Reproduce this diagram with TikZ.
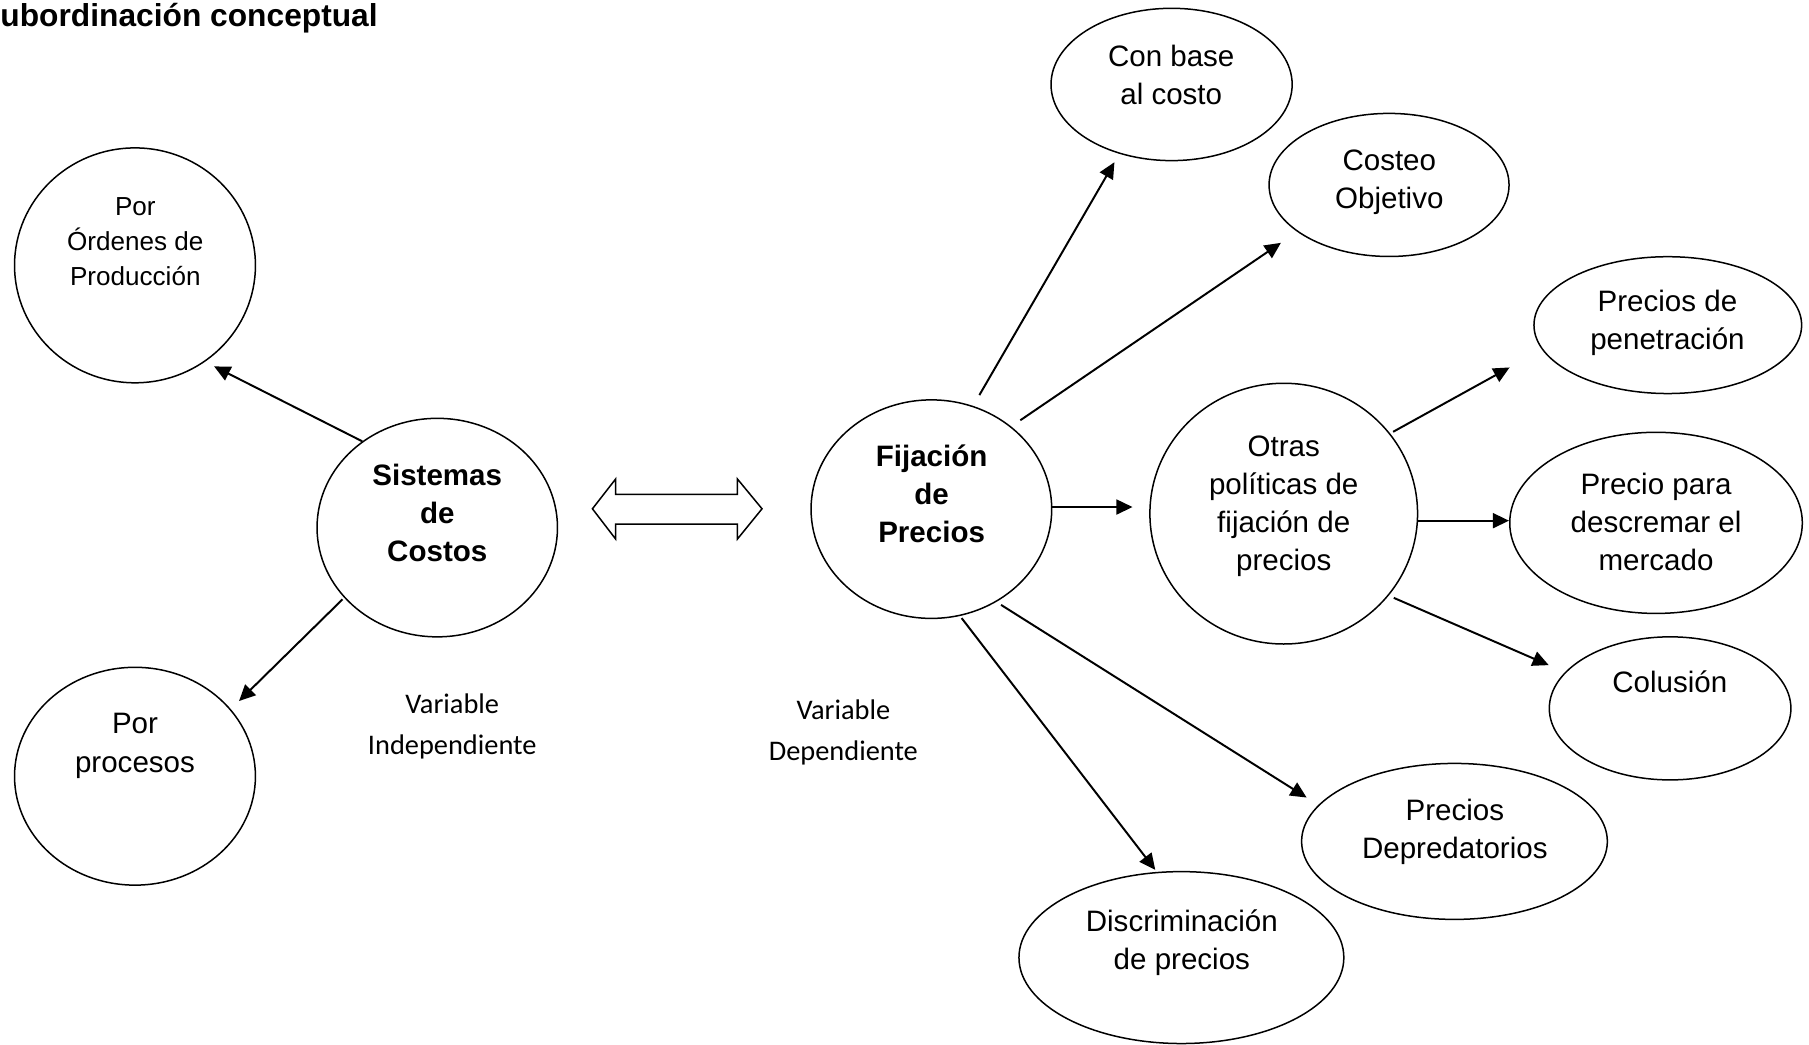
\documentclass[tikz,border=0pt]{standalone}
\usepackage{fontspec}
\setmainfont{Liberation Sans}
\newfontfamily\carl{Carlito}
\usetikzlibrary{arrows.meta,shapes.geometric}
\newcommand\tl[1]{\begin{tabular}[t]{@{}c@{}}#1\end{tabular}}
\begin{document}
\begin{tikzpicture}[x=0.5pt,y=-0.5pt,
  ell/.style={draw,line width=0.65pt,ellipse,inner sep=0pt},
  txt/.style={anchor=base,inner sep=0pt,font=\fontsize{12.8}{16.5}\selectfont},
  btxt/.style={anchor=base,inner sep=0pt,font=\fontsize{12.8}{16.5}\selectfont\bfseries},
  stxt/.style={anchor=base,inner sep=0pt,font=\fontsize{11.3}{15.2}\selectfont},
  ctxt/.style={anchor=base,inner sep=0pt,font=\carl\fontsize{12.3}{17.75}\selectfont},
  arr/.style={-{Triangle[length=7pt,width=6.5pt]},line width=0.85pt}
]
\useasboundingbox (0,0) rectangle (1568,905);

% title
\node[anchor=base west,inner sep=0pt,font=\fontsize{13.75}{16}\selectfont\bfseries] (title) at (0,23.1) {ubordinación conceptual};

% ellipses
\node[ell,minimum width=104.4pt,minimum height=101.8pt] (ord) at (117,230) {};
\node[ell,minimum width=104.4pt,minimum height=94.4pt] (proc) at (117,672.8) {};
\node[ell,minimum width=104.2pt,minimum height=94.7pt] (sis) at (379,457.3) {};
\node[ell,minimum width=104.3pt,minimum height=94.7pt] (fij) at (807.3,441.3) {};
\node[ell,minimum width=104.5pt,minimum height=66pt] (base) at (1015.5,73.2) {};
\node[ell,minimum width=104pt,minimum height=62pt] (obj) at (1204,160.3) {};
\node[ell,minimum width=116pt,minimum height=113pt] (otras) at (1112.7,445.2) {};
\node[ell,minimum width=116pt,minimum height=59.3pt] (pen) at (1445.6,281.8) {};
\node[ell,minimum width=126.8pt,minimum height=78.5pt] (desc) at (1435.4,453.2) {};
\node[ell,minimum width=104.7pt,minimum height=62pt] (col) at (1447.6,614) {};
\node[ell,minimum width=132.5pt,minimum height=67.6pt] (dep) at (1260.7,729.3) {};
\node[ell,minimum width=140.8pt,minimum height=74.5pt] (dis) at (1024,830) {};

% texts
\node[stxt] (ord-t) at (117.3,186.4) {\tl{Por\\Órdenes de\\Producción}};
\node[txt] (proc-t) at (117,636.2) {\tl{Por\\procesos}};
\node[btxt] (sis-t) at (379,421) {\tl{Sistemas\\de\\Costos}};
\node[btxt] (fij-t) at (807.5,404.5) {\tl{Fijación\\de\\Precios}};
\node[txt] (base-t) at (1015.2,57.8) {\tl{Con base\\al costo}};
\node[txt] (obj-t) at (1204.2,147.4) {\tl{Costeo\\Objetivo}};
\node[txt] (otras-t) at (1112.7,395.8) {\tl{Otras\\políticas de\\fijación de\\precios}};
\node[txt] (pen-t) at (1445.3,270.2) {\tl{Precios de\\penetración}};
\node[txt] (desc-t) at (1435.4,428.5) {\tl{Precio para\\descremar el\\mercado}};
\node[txt] (col-t) at (1447.4,600.4) {Colusión};
\node[txt] (dep-t) at (1261,710.8) {\tl{Precios\\Depredatorios}};
\node[txt] (dis-t) at (1024.4,807.5) {\tl{Discriminación\\de precios}};
\node[ctxt] (vi) at (392,618.3) {\tl{Variable\\Independiente}};
\node[ctxt] (vd) at (731,624) {\tl{Variable\\Dependiente}};

% hollow double arrow
\draw[line width=0.65pt,line join=miter] (513.5,441) -- (533.6,415.2) -- (533.6,428.5) -- (639.2,428.5) -- (639.2,415.2) -- (660.5,441) -- (639.2,467.2) -- (639.2,454.2) -- (533.6,454.2) -- (533.6,467.2) -- cycle;

% connectors
\draw[arr,shorten >=4.4pt] (sis.131) -- (ord.-54.8);
\draw[arr,shorten <=1pt,shorten >=5pt] (sis.-143.7) -- (proc.35.4);
\draw[arr,shorten <=5.4pt,shorten >=4.2pt] (fij.68.1) -- (base.-127.1);
\draw[arr,shorten <=4.75pt,shorten >=8.5pt] (fij.46.7) -- (obj.-153.1);
\draw[arr,shorten >=7.2pt] (fij.1.5) -- (fij.1.5 -| otras.west);
\draw[arr,shorten <=1.15pt,shorten >=1.1pt] (fij.-75.2) -- (dis.106.9);
\draw[arr,shorten <=2.4pt,shorten >=6pt] (fij.-55.7) -- (dep.165.8);
\draw[arr,shorten <=1.45pt,shorten >=16pt] (otras.37) -- (pen.-169.9);
\draw[arr] (otras.-3.2) -- (otras.-3.2 -| desc.west);
\draw[arr,shorten <=2.4pt,shorten >=7.65pt] (otras.-38.5) -- (col.161.8);
\end{tikzpicture}
\end{document}
